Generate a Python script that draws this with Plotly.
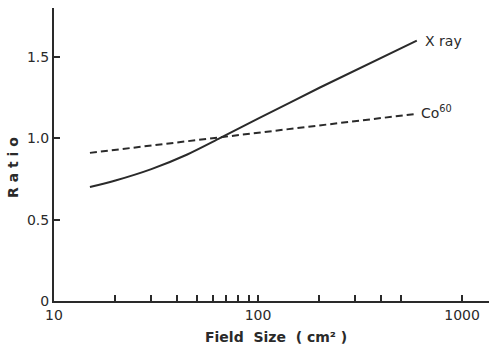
import plotly.graph_objects as go

# Data
xray_field = [15, 20, 30, 45, 65, 100, 200, 600]
xray_ratio = [0.70, 0.74, 0.81, 0.90, 1.00, 1.12, 1.31, 1.60]

co_field = [15, 60, 600]
co_ratio = [0.91, 1.00, 1.15]

x_tickvals = [10, 100, 1000]
x_ticktext = ["10", "100", "1000"]
x_minor_tickvals = [20, 30, 40, 50, 60, 70, 80, 90, 200, 300, 400, 500]
y_tickvals = [0, 0.5, 1.0, 1.5]
y_ticktext = ["0", "0.5", "1.0", "1.5"]

ink = "#2a2a2a"
font = dict(family="DejaVu Sans", size=14, color=ink)

W, H = 489, 347
ml, mr, mt, mb = 54, 0, 8, 46
pw, ph = W - ml - mr, H - mt - mb


def px_to_paper(x, y):
    return (x - ml) / pw, (H - mb - y) / ph


fig = go.Figure()
fig.add_trace(go.Scatter(x=xray_field, y=xray_ratio, mode="lines",
                         line=dict(color=ink, width=2, shape="spline", smoothing=0.8),
                         showlegend=False))
fig.add_trace(go.Scatter(x=co_field, y=co_ratio, mode="lines",
                         line=dict(color=ink, width=2, dash="7px,4px"),
                         showlegend=False))

fig.add_annotation(x=2.81, y=1.60, xref="x", yref="y", text="X ray", showarrow=False,
                   xanchor="left", yanchor="middle", font=font)
fig.add_annotation(x=2.79, y=1.16, xref="x", yref="y", text="Co<sup>60</sup>", showarrow=False,
                   xanchor="left", yanchor="middle", font=font)

rx, ry = px_to_paper(13, 168)
fig.add_annotation(x=rx, y=ry, xref="paper", yref="paper", text="<b>R a t i o</b>",
                   showarrow=False, textangle=-90, xanchor="center", yanchor="middle",
                   font=font)
tx, ty = px_to_paper(276, 337)
fig.add_annotation(x=tx, y=ty, xref="paper", yref="paper", text="<b>Field  Size  ( cm² )</b>",
                   showarrow=False, xanchor="center", yanchor="middle", font=font)

fig.update_layout(
    width=W, height=H,
    margin=dict(l=ml, r=mr, t=mt, b=mb, autoexpand=False),
    plot_bgcolor="white", paper_bgcolor="white",
    font=font,
    xaxis=dict(type="log", range=[1, 3.132], showgrid=False, zeroline=False,
               automargin=False,
               showline=True, linecolor=ink, linewidth=2,
               ticks="inside", ticklen=6, tickwidth=1.5, tickcolor=ink,
               tickvals=x_tickvals, ticktext=x_ticktext, tickfont=font,
               minor=dict(tickmode="array", tickvals=x_minor_tickvals, ticks="inside",
                          ticklen=6, tickwidth=1.5, tickcolor=ink, showgrid=False)),
    yaxis=dict(range=[0, 1.80], showgrid=False, zeroline=False,
               automargin=False,
               showline=True, linecolor=ink, linewidth=2,
               ticks="inside", ticklen=6, tickwidth=1.5, tickcolor=ink,
               tickvals=y_tickvals, ticktext=y_ticktext, tickfont=font),
)

fig.write_html("out.html", config={"displayModeBar": False},
               post_script="document.body.style.margin='0px';")
